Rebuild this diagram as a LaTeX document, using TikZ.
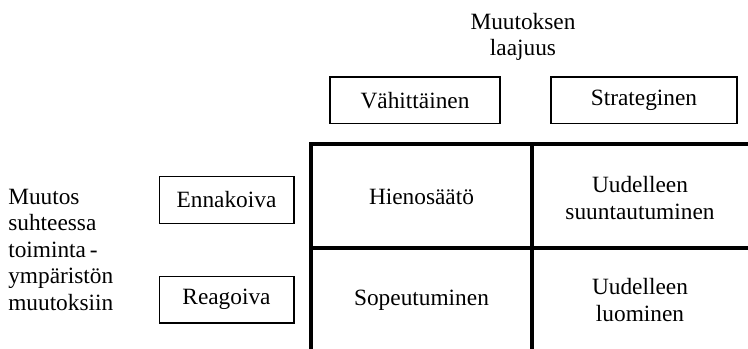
\documentclass[tikz,border=0pt]{standalone}
\usepackage{fontspec}
\setmainfont{Liberation Serif}
\begin{document}
\begin{tikzpicture}[x=0.75pt,y=-0.75pt,
  every node/.style={font=\fontsize{17.5}{19.8}\selectfont},
  labelbox/.style={draw,line width=1pt,minimum height=35pt,inner sep=0pt},
  celltext/.style={align=center,inner sep=0pt},
  gridline/.style={line width=2.5pt}]
\useasboundingbox (0,0) rectangle (748,349);
% axis titles
\node[align=center,anchor=north,inner sep=0pt] (top) at (523,13) {Muutoksen\\laajuus};
\node[align=left,anchor=north west,inner sep=0pt] (left) at (8,189) {Muutos\\suhteessa\\toiminta\,-\\ympäristön\\muutoksiin};
% header boxes
\node[labelbox,minimum width=127.5pt] (vah) at (415,100.5) {Vähittäinen};
\node[labelbox,minimum width=139.5pt] (str) at (644,100.5) {Strateginen};
\node[labelbox,minimum width=101pt] (enn) at (226.5,200) {Ennakoiva};
\node[labelbox,minimum width=101pt] (rea) at (226.5,299.5) {Reagoiva};
% grid
\coordinate (tl) at (311,144);
\coordinate (tr) at (748,144);
\coordinate (bl) at (311,349);
\coordinate (mt) at (532,144);
\coordinate (mb) at (532,349);
\coordinate (ml) at (311,248);
\coordinate (mr) at (748,248);
\draw[gridline] (tr) -- (tl) -- (bl);
\draw[gridline] (mt) -- (mb);
\draw[gridline] (ml) -- (mr);
% cells
\node[celltext] (c11) at (421.5,197) {Hienosäätö};
\node[celltext] (c12) at (640,198) {Uudelleen\\suuntautuminen};
\node[celltext] (c21) at (421.5,300) {Sopeutuminen};
\node[celltext] (c22) at (640,300) {Uudelleen\\luominen};
\end{tikzpicture}
\end{document}
